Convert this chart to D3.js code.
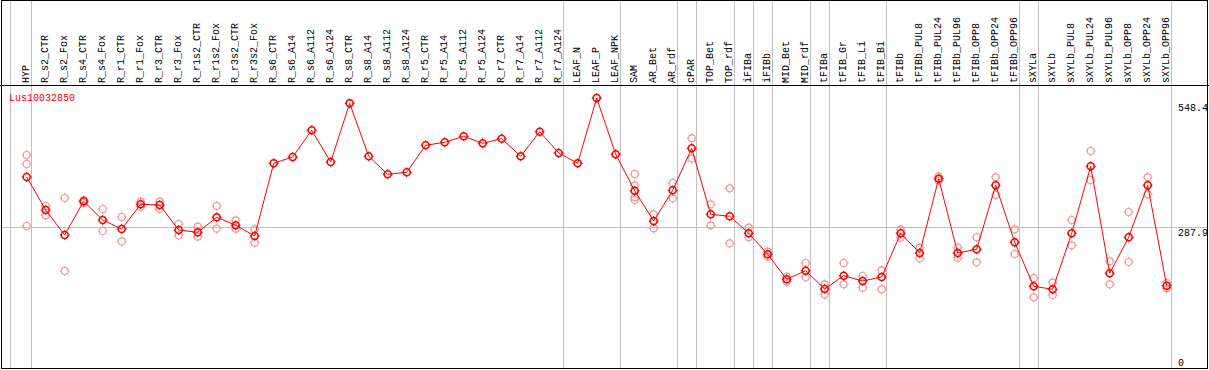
<!DOCTYPE html>
<html><head><meta charset="utf-8">
<script src="https://cdn.jsdelivr.net/npm/d3@7"></script>
<style>body{margin:0;background:#fff}svg{display:block}text{font-family:'Liberation Mono','DejaVu Sans Mono',monospace;font-size:10px}</style>
</head><body><svg id="c" width="1209" height="370"></svg>
<script>
const categories = ["HYP","R_s2_CTR","R_s2_Fox","R_s4_CTR","R_s4_Fox","R_r1_CTR","R_r1_Fox","R_r3_CTR","R_r3_Fox","R_r1s2_CTR","R_r1s2_Fox","R_r3s2_CTR","R_r3s2_Fox","R_s6_CTR","R_s6_A14","R_s6_A112","R_s6_A124","R_s8_CTR","R_s8_A14","R_s8_A112","R_s8_A124","R_r5_CTR","R_r5_A14","R_r5_A112","R_r5_A124","R_r7_CTR","R_r7_A14","R_r7_A112","R_r7_A124","LEAF_N","LEAF_P","LEAF_NPK","SAM","AR_Bet","AR_rdf","cPAR","TOP_Bet","TOP_rdf","iFIBa","iFIBb","MID_Bet","MID_rdf","tFIBa","tFIB_Gr","tFIB_Li","tFIB_Bi","tFIBb","tFIBb_PUL8","tFIBb_PUL24","tFIBb_PUL96","tFIBb_OPP8","tFIBb_OPP24","tFIBb_OPP96","sXYLa","sXYLb","sXYLb_PUL8","sXYLb_PUL24","sXYLb_PUL96","sXYLb_OPP8","sXYLb_OPP24","sXYLb_OPP96"];
const meanValues = [392.6,324.1,272.1,342.1,303.3,284.6,335.9,334.4,282.5,277.7,308.9,292.3,270.0,421.1,434.2,489.6,423.8,545.7,435.6,398.2,402.4,458.5,464.7,477.2,462.6,472.2,435.6,486.7,442.5,421.1,556.7,439.8,364.1,301.2,365.0,452.2,315.1,311.0,275.7,232.0,180.1,198.0,160.0,187.6,176.6,184.9,275.7,234.7,389.1,234.7,242.4,375.4,257.0,165.6,159.3,275.7,414.8,192.6,267.4,375.4,166.8];
const rep1 = [438.3,332.4,349.0,344.8,326.1,309.5,341.3,341.3,295.0,289.4,332.4,302.7,284.0,null,null,null,null,null,null,null,null,null,null,null,null,null,null,null,null,null,null,null,398.8,315.1,380.1,473.0,335.9,369.1,287.3,237.4,185.5,214.0,169.7,214.0,187.0,198.8,283.1,245.7,394.1,245.7,267.4,392.0,284.0,182.8,173.0,303.3,446.6,217.5,319.9,392.0,172.4];
const rep2 = [419.6,313.0,197.3,338.6,280.4,259.0,330.9,326.1,271.5,268.6,285.2,285.2,256.1,null,null,null,null,null,null,null,null,null,null,null,null,null,null,null,null,null,null,null,375.4,286.0,348.4,430.6,292.3,254.9,267.4,227.0,175.1,184.3,148.9,169.7,162.7,159.3,266.5,223.7,384.9,225.0,215.4,355.2,232.7,142.7,147.5,250.7,386.4,169.7,216.0,356.7,161.4];
const rep3 = [290.8,null,null,null,null,null,null,null,null,null,null,null,null,null,null,null,null,null,null,null,null,null,null,null,null,null,null,null,null,null,null,null,350.4,null,null,null,null,null,null,null,null,null,null,null,null,null,null,null,null,null,null,null,null,null,null,null,null,null,null,null,null];
const rep4 = [null,null,null,null,null,null,null,null,null,null,null,null,null,null,null,null,null,null,null,null,null,null,null,null,null,null,null,null,null,null,null,null,344.8,null,null,null,null,null,null,null,null,null,null,null,null,null,null,null,null,null,null,null,null,null,null,null,null,null,null,null,null];
const groupEnds = ["HYP","R_r7_A124","LEAF_NPK","AR_rdf","cPAR","TOP_rdf","iFIBa","iFIBb","MID_rdf","tFIBa","tFIB_Bi","tFIBb_OPP96","sXYLa","sXYLb_OPP96"];
const yTicks = [0, 287.9, 548.4];
const geneName = "Lus10032850";

const svg = d3.select("#c");
const x = d3.scaleBand().domain(categories).range([11.7, 11.7 + 19*61]).paddingInner(0).paddingOuter(0);
const px = c => x(c) + x.bandwidth() - 4;
const y = d3.scaleLinear().domain([0, 548.4]).range([366, 102]);

// separators
svg.append("line").attr("x1",10.5).attr("x2",10.5).attr("y1",0).attr("y2",369).attr("stroke","#c0c0c0");
groupEnds.forEach(c=>{
  const gx = Math.round(x(c)+x.bandwidth())+0.5;
  svg.append("line").attr("x1",gx).attr("x2",gx).attr("y1",0).attr("y2",369).attr("stroke","#c0c0c0");
});
// horizontal grid at mid tick
svg.append("line").attr("x1",1).attr("x2",1208).attr("y1",Math.round(y(287.9))+0.5).attr("y2",Math.round(y(287.9))+0.5).attr("stroke","#c0c0c0");

// frame
svg.append("rect").attr("x",1.5).attr("y",0.5).attr("width",1206).attr("height",368).attr("fill","none").attr("stroke","#000");
svg.append("line").attr("x1",0).attr("x2",1209).attr("y1",85.5).attr("y2",85.5).attr("stroke","#000");

// category labels
svg.append("g").selectAll("text").data(categories).join("text")
  .attr("transform", c=>`translate(${Math.round(px(c)+2)},83) rotate(-90)`)
  .attr("text-anchor","start").attr("fill","#000").text(c=>c);

// y labels
svg.append("g").selectAll("text").data(yTicks).join("text")
  .attr("x",1178).attr("y",v=>Math.round(Math.min(y(v)+9,366))).attr("fill","#000").text(v=>v===0?"0":v.toFixed(1));

svg.append("text").attr("x",9).attr("y",101).attr("fill","#ff0000").text(geneName);

function marker(g, cx, cy, color, sw){
  const r = 3.5;
  g.append("circle").attr("cx",cx).attr("cy",cy).attr("r",r).attr("fill","none").attr("stroke",color).attr("stroke-width",sw);
  [[0,1],[0,-1],[1,0],[-1,0]].forEach(([dx,dy])=>{
    g.append("line").attr("x1",cx+dx*(r-0.5)).attr("y1",cy+dy*(r-0.5)).attr("x2",cx+dx*(r+1.5)).attr("y2",cy+dy*(r+1.5)).attr("stroke",color).attr("stroke-width",1);
  });
}
const repG = svg.append("g");
[rep1,rep2,rep3,rep4].forEach(arr=>{
  arr.forEach((v,i)=>{ if(v!=null) marker(repG, px(categories[i]), y(v), "#f09a9a", 1.2); });
});
svg.append("path").datum(meanValues)
  .attr("d", d3.line().x((v,i)=>px(categories[i])).y(v=>y(v)))
  .attr("fill","none").attr("stroke","#ff0000").attr("stroke-width",1);
const mG = svg.append("g");
meanValues.forEach((v,i)=>marker(mG, px(categories[i]), y(v), "#ff0000", 1.6));
</script></body></html>
